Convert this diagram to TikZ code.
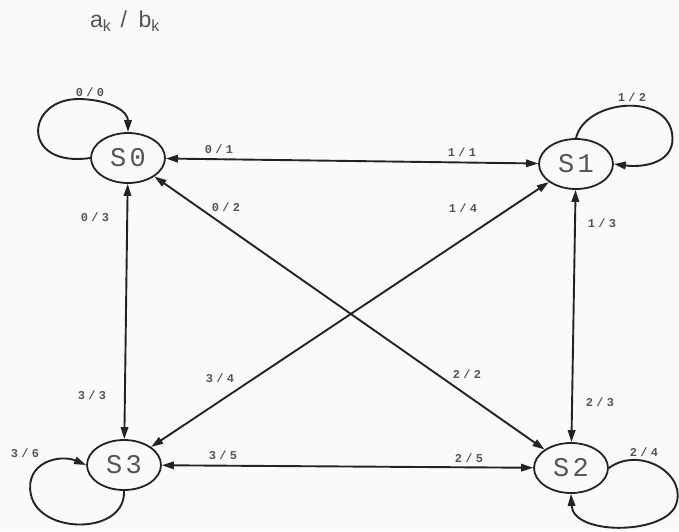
\documentclass[tikz,border=0pt]{standalone}
\usepackage{fontspec}
\setmainfont{Liberation Sans}
\newfontfamily\statefont[LetterSpace=12]{Liberation Mono}
\newfontfamily\lblfont[LetterSpace=28]{Liberation Mono}
\usetikzlibrary{shapes.geometric,arrows.meta}
\definecolor{ink}{RGB}{35,35,35}
\definecolor{txt}{RGB}{85,85,85}
\definecolor{bg}{RGB}{251,250,251}
\begin{document}
\begin{tikzpicture}[x=1pt,y=-1pt,
  state/.style={draw=ink,line width=1.8pt,ellipse,minimum width=74pt,minimum height=50pt,inner sep=0pt,
     font=\statefont\fontsize{27}{27}\selectfont,text=txt},
  lbl/.style={font=\lblfont\bfseries\fontsize{12}{12}\selectfont,text=txt,inner sep=0pt},
  edge/.style={draw=ink,line width=1.9pt,{Triangle[length=12pt,width=7.5pt]}-{Triangle[length=12pt,width=7.5pt]}},
  loopedge/.style={draw=ink,line width=1.9pt,-{Triangle[length=12pt,width=7.5pt]}}]
\fill[bg] (0,0) rectangle (679,531);
\useasboundingbox (0,0) rectangle (679,531);
\node[font=\fontsize{23}{23}\selectfont,text=txt,inner sep=0pt] (title) at (125,21) {a\textsubscript{k}\hspace{0.4em}/\hspace{0.5em}b\textsubscript{k}};
\node[state] (S0) at (128,158) {S0};
\node[state] (S1) at (576,164) {S1};
\node[state] (S2) at (571,468) {S2};
\node[state] (S3) at (124,465) {S3};
% straight edges
\draw[edge] (S0) -- (S1);
\draw[edge] (S0) -- (S3);
\draw[edge] (S1) -- (S2);
\draw[edge] (S3) -- (S2);
\draw[edge] (S0) -- (S2);
\draw[edge] (S1) -- (S3);
% loops
\draw[loopedge] (S0.west) .. controls (20,168) and (25,98) .. (80,99) .. controls (112,100) and (128,112) .. (S0.north);
\draw[loopedge] (S1.north) .. controls (585,100) and (665,92) .. (672,133) .. controls (677,162) and (645,168) .. (S1.east);
\draw[loopedge] (S2.east) .. controls (640,445) and (690,475) .. (675,507) .. controls (660,535) and (573,535) .. (S2.south);
\draw[loopedge] (S3.south) .. controls (126,535) and (40,535) .. (31,495) .. controls (24,462) and (60,454) .. (S3.west);
% labels
\node[lbl] (l00) at (90,92) {0/0};
\node[lbl] (l01) at (219,149) {0/1};
\node[lbl] (l11) at (462,152) {1/1};
\node[lbl] (l12) at (632,97) {1/2};
\node[lbl] (l03) at (95,217) {0/3};
\node[lbl] (l02) at (226,207) {0/2};
\node[lbl] (l14) at (463,208) {1/4};
\node[lbl] (l13) at (602,223) {1/3};
\node[lbl] (l33) at (92,395) {3/3};
\node[lbl] (l34) at (220,378) {3/4};
\node[lbl] (l22) at (467,374) {2/2};
\node[lbl] (l23) at (600,402) {2/3};
\node[lbl] (l36) at (25,453) {3/6};
\node[lbl] (l35) at (223,455) {3/5};
\node[lbl] (l25) at (469,458) {2/5};
\node[lbl] (l24) at (644,452) {2/4};
\end{tikzpicture}
\end{document}
